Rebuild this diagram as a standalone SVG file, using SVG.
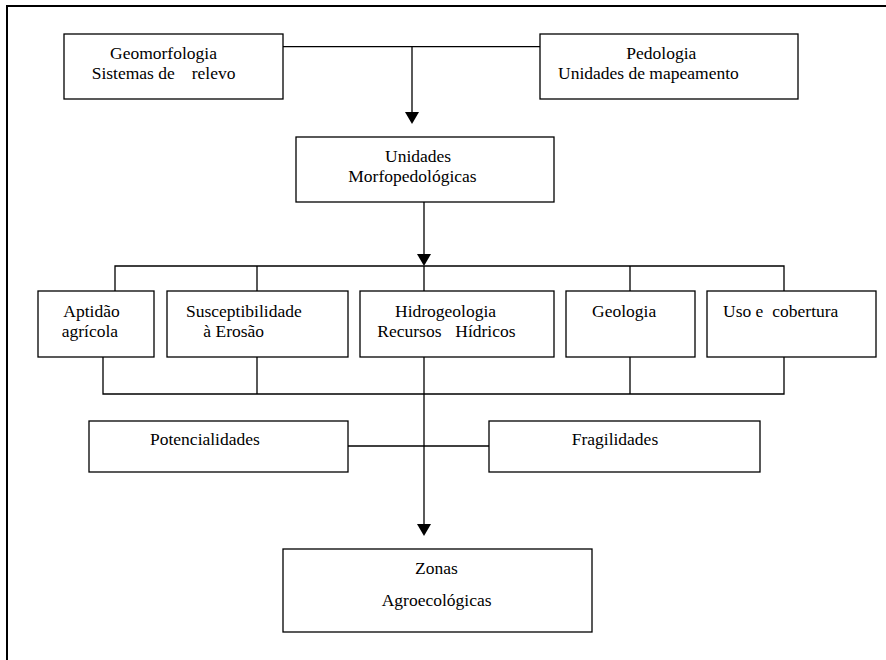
<svg xmlns="http://www.w3.org/2000/svg" width="886" height="660" viewBox="0 0 886 660">
<style>
.box{fill:#fff;stroke:#000;stroke-width:1.3}
.ln{fill:none;stroke:#000;stroke-width:1.3}
.t{font-family:'Liberation Serif','Times New Roman','DejaVu Serif',serif;font-size:17.5px;fill:#000}
</style>
<defs>
<marker id="ah" markerUnits="userSpaceOnUse" markerWidth="14" markerHeight="14" viewBox="0 0 12 14" refX="1" refY="7" orient="auto">
<path d="M0,0 L12,7 L0,14 z" fill="#000"/>
</marker>
</defs>
<rect width="886" height="660" fill="#fff"/>
<g id="frame">
<path d="M6,6 H886 M7,6 V660" fill="none" stroke="#000" stroke-width="2"/>
</g>
<g id="connectors">
<path class="ln" d="M283,46.7 H540"/>
<path class="ln" d="M412,46.7 V113" marker-end="url(#ah)"/>
<path class="ln" d="M424,202 V255" marker-end="url(#ah)"/>
<path class="ln" d="M115,291 V266 H784 V291 M257,266 V291 M424,266 V291 M630,266 V291"/>
<path class="ln" d="M103,357 V394 H784 V357 M257,357 V394 M630,357 V394"/>
<path class="ln" d="M424,357 V525" marker-end="url(#ah)"/>
<path class="ln" d="M348,446 H489"/>
</g>
<g class="t" font-family="Liberation Serif, serif">
<g id="geomorfologia">
<rect class="box" x="64" y="34" width="219" height="65"/>
<text x="110" y="59">Geomorfologia</text>
<text x="91.7" y="78.5">Sistemas de<tspan x="191.7">relevo</tspan></text>
</g>
<g id="pedologia">
<rect class="box" x="540" y="34" width="258" height="65"/>
<text x="626.3" y="59">Pedologia</text>
<text x="558" y="78.5">Unidades de mapeamento</text>
</g>
<g id="unidades">
<rect class="box" x="296" y="137" width="258" height="65"/>
<text x="385" y="161.7">Unidades</text>
<text x="348.3" y="181.7">Morfopedológicas</text>
</g>
<g id="aptidao">
<rect class="box" x="38" y="291" width="116" height="66"/>
<text x="63.3" y="316.7">Aptidão</text>
<text x="61.7" y="336.7">agrícola</text>
</g>
<g id="susceptibilidade">
<rect class="box" x="167" y="291" width="181" height="66"/>
<text x="186" y="316.7">Susceptibilidade</text>
<text x="203.3" y="336.7">à Erosão</text>
</g>
<g id="hidrogeologia">
<rect class="box" x="360" y="291" width="194" height="66"/>
<text x="395" y="316.7">Hidrogeologia</text>
<text x="377.3" y="336.7">Recursos<tspan x="455.3">Hídricos</tspan></text>
</g>
<g id="geologia">
<rect class="box" x="566" y="291" width="129" height="66"/>
<text x="592" y="316.7">Geologia</text>
</g>
<g id="uso">
<rect class="box" x="707" y="291" width="169" height="66"/>
<text x="723" y="316.7">Uso e<tspan x="772.3">cobertura</tspan></text>
</g>
<g id="potencialidades">
<rect class="box" x="89" y="421" width="259" height="51"/>
<text x="150" y="445">Potencialidades</text>
</g>
<g id="fragilidades">
<rect class="box" x="489" y="421" width="271" height="51"/>
<text x="571.7" y="445">Fragilidades</text>
</g>
<g id="zonas">
<rect class="box" x="283" y="549" width="309" height="83"/>
<text x="415" y="574.3">Zonas</text>
<text x="381.7" y="606">Agroecológicas</text>
</g>
</g>
</svg>
